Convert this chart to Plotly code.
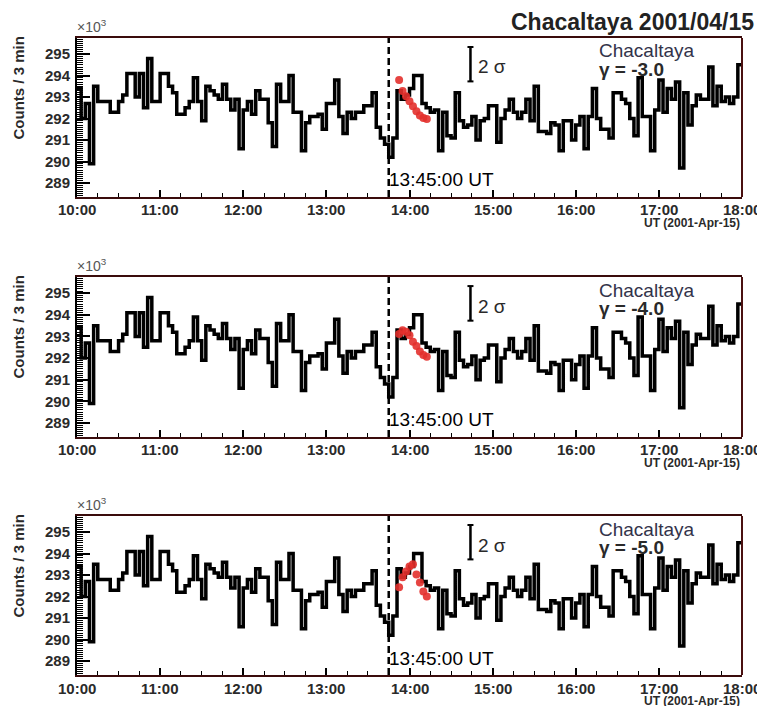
import plotly.graph_objects as go
import pandas as pd

# ---------------- data ----------------
start_time = "2001-04-15 10:00"
end_time = "2001-04-15 18:00"
onset_time = "2001-04-15 13:45"
sigma_time = "2001-04-15 14:44"

# counts per 3-min bin (x10^3), 10:00 -> 18:00
counts = [
    293.4, 292.0, 292.7, 289.9, 293.5, 292.8, 292.8, 292.8, 292.3, 292.3,
    292.8, 293.1, 294.1, 294.1, 293.0, 294.1, 292.5, 294.8, 292.8, 292.8,
    294.1, 294.1, 293.5, 293.2, 292.2, 292.2, 292.5, 292.8, 293.9, 292.8,
    291.9, 293.5, 293.3, 293.1, 292.9, 293.6, 292.9, 292.4, 292.9, 290.6,
    292.4, 292.8, 292.2, 293.3, 292.9, 292.9, 291.8, 290.7, 293.6, 292.8,
    292.8, 294.0, 292.3, 292.3, 290.5, 291.8, 292.1, 292.1, 292.2, 291.5,
    292.7, 292.7, 293.8, 292.1, 291.3, 292.3, 292.0, 292.3, 292.3, 292.6,
    292.6, 293.2, 291.6, 291.1, 290.8, 290.2, 291.1, 293.3, 292.9, 293.1,
    293.4, 294.0, 294.0, 292.7, 292.5, 292.3, 292.4, 290.5, 292.3, 291.2,
    291.1, 293.2, 291.9, 291.6, 291.7, 292.1, 291.0, 291.9, 292.0, 292.6,
    292.6, 290.9, 292.0, 292.4, 292.9, 292.3, 292.0, 292.3, 292.9, 291.9,
    293.5, 291.4, 291.4, 291.3, 291.8, 291.7, 290.5, 291.9, 291.9, 291.0,
    291.7, 292.1, 290.6, 292.1, 293.4, 292.0, 291.5, 291.5, 291.1, 293.2,
    293.2, 292.9, 292.7, 292.0, 291.2, 293.9, 292.1, 292.1, 290.5, 292.4,
    293.8, 292.3, 293.4, 292.9, 293.7, 289.7, 293.2, 291.7, 292.6, 293.1,
    292.9, 292.9, 294.4, 292.6, 293.5, 292.8, 293.0, 292.7, 293.0, 294.5,
]

# model points (red) for the three spectral indices
model_times = [
    "2001-04-15 13:52:30", "2001-04-15 13:55:00", "2001-04-15 13:57:30",
    "2001-04-15 14:00:00", "2001-04-15 14:02:30", "2001-04-15 14:05:00",
    "2001-04-15 14:07:30", "2001-04-15 14:10:00", "2001-04-15 14:12:30",
]
model_g3 = [293.79, 293.28, 293.04, 292.81, 292.57, 292.34, 292.14, 292.03, 291.98]
model_g4 = [293.11, 293.29, 293.22, 293.06, 292.76, 292.56, 292.30, 292.14, 292.06]
model_g5 = [292.43, 292.90, 293.17, 293.40, 293.50, 293.03, 292.66, 292.24, 292.00]

gamma_labels = ["-3.0", "-4.0", "-5.0"]
models = [model_g3, model_g4, model_g5]
hour_ticks = ["10:00", "11:00", "12:00", "13:00", "14:00", "15:00", "16:00", "17:00", "18:00"]
y_range = [288.35, 295.75]
sigma_bar = [293.73, 295.33]

# ---------------- layout geometry (page pixels) ----------------
OFF = 8                      # default page margin around the plot div
W, H = 765 - OFF, 706 - OFF  # figure size so that it ends at the window edge
X0, X1 = 77, 742
panels = [(38, 197), (277, 437), (516, 675)]
FONT = "Liberation Sans, Arial, sans-serif"
TXT = "#2a2a2a"


def px(x):
    return (x - OFF) / W


def py(y):
    return 1 - (y - OFF) / H


edges = pd.date_range(start_time, periods=len(counts) + 1, freq="3min")
hist_x = list(edges)
hist_y = counts + [counts[-1]]

fig = go.Figure()
annotations = []
shapes = []

for k, (top, bot) in enumerate(panels):
    sfx = "" if k == 0 else str(k + 1)
    xa, ya = "x" + sfx, "y" + sfx

    fig.add_trace(go.Scatter(
        x=hist_x, y=hist_y, mode="lines", line=dict(shape="hv", color="black", width=3.5),
        xaxis=xa, yaxis=ya, showlegend=False, hoverinfo="skip"))
    fig.add_trace(go.Scatter(
        x=model_times, y=models[k], mode="markers",
        marker=dict(color="#e3302c", size=8, opacity=0.9, line=dict(width=0)),
        xaxis=xa, yaxis=ya, showlegend=False))

    fig.layout["xaxis" + sfx] = dict(
        domain=[px(X0), px(X1)], anchor=ya, type="date", automargin=False,
        range=[start_time, end_time], dtick=3600000, tick0=start_time,
        ticks="inside", ticklen=7, tickwidth=1.5, tickcolor="black",
        minor=dict(dtick=900000, ticks="inside", ticklen=4, tickcolor="black", tickwidth=1),
        showline=True, linecolor="#3a0c0c", linewidth=2, mirror=True,
        showgrid=False, zeroline=False, showticklabels=False,
    )
    fig.layout["yaxis" + sfx] = dict(
        domain=[py(bot), py(top)], anchor=xa, range=y_range, automargin=False,
        tickmode="linear", tick0=289, dtick=1,
        ticks="inside", ticklen=13, tickwidth=1.5, tickcolor="black",
        minor=dict(tickmode="linear", tick0=289, dtick=0.1, ticks="inside", ticklen=6,
                   tickcolor="black", tickwidth=1),
        showline=True, linecolor="black", linewidth=2, mirror=False,
        showgrid=False, zeroline=False, ticklabelstandoff=2,
        tickfont=dict(family=FONT, size=15, color=TXT, weight="bold"),
    )

    # hour labels under the axis
    for h in hour_ticks:
        annotations.append(dict(
            x="2001-04-15 " + h, y=py(bot + 13), xref=xa, yref="paper",
            xanchor="center", yanchor="middle", text=h, showarrow=False,
            font=dict(family=FONT, size=15, color=TXT, weight="bold")))

    # frame (right border dark red)
    shapes.append(dict(type="line", xref="paper", yref="paper",
                       x0=px(X1), x1=px(X1), y0=py(bot), y1=py(top),
                       line=dict(color="#4a1010", width=2)))
    # onset dashed line
    shapes.append(dict(type="line", xref=xa, yref=ya + " domain",
                       x0=onset_time, x1=onset_time, y0=0, y1=1,
                       line=dict(color="black", width=2.5, dash="7px,4px")))
    # 2 sigma bar
    shapes.append(dict(type="line", xref=xa, yref=ya, x0=sigma_time, x1=sigma_time,
                       y0=sigma_bar[0], y1=sigma_bar[1], line=dict(color="black", width=2.5)))
    for yv in sigma_bar:
        shapes.append(dict(type="line", xref=xa, yref=ya, xsizemode="pixel", xanchor=sigma_time,
                           x0=-3, x1=3, y0=yv, y1=yv, line=dict(color="black", width=2)))

    annotations += [
        dict(x=px(X0 - 2), y=py(top - 1), xref="paper", yref="paper", xanchor="left", yanchor="bottom",
             text="×10<sup>3</sup>", showarrow=False, font=dict(family=FONT, size=14, color="#555")),
        dict(x=px(597), y=py(top + 13), xref="paper", yref="paper", xanchor="left", yanchor="middle",
             text="Chacaltaya", showarrow=False, font=dict(family=FONT, size=19, color="#33334a")),
        dict(x=px(597), y=py(top + 31), xref="paper", yref="paper", xanchor="left", yanchor="middle",
             text="γ = " + gamma_labels[k], showarrow=False,
             font=dict(family=FONT, size=19, color=TXT, weight="bold")),
        dict(x=px(476), y=py(top + 29), xref="paper", yref="paper", xanchor="left", yanchor="middle",
             text="2 σ", showarrow=False, font=dict(family=FONT, size=19, color=TXT)),
        dict(x=px(387), y=py(top + 142), xref="paper", yref="paper", xanchor="left", yanchor="middle",
             text="13:45:00 UT", showarrow=False, font=dict(family=FONT, size=19, color="black")),
        dict(x=px(X1), y=py(bot + 26), xref="paper", yref="paper", xanchor="right", yanchor="middle",
             text="UT (2001-Apr-15)", showarrow=False,
             font=dict(family=FONT, size=12, color=TXT, weight="bold")),
        dict(x=px(18), y=py(top - 3), xref="paper", yref="paper", xanchor="center", yanchor="top",
             text="Counts / 3 min", textangle=-90, showarrow=False,
             font=dict(family=FONT, size=15, color=TXT, weight="bold")),
    ]

annotations.append(dict(x=px(756), y=py(22), xref="paper", yref="paper", xanchor="right",
                        yanchor="middle", text="Chacaltaya 2001/04/15", showarrow=False,
                        font=dict(family=FONT, size=23, color="#222", weight="bold")))

fig.update_layout(
    width=W, height=H, margin=dict(l=0, r=0, t=0, b=0),
    paper_bgcolor="white", plot_bgcolor="white",
    annotations=annotations, shapes=shapes, showlegend=False,
)

fig.write_html("out.html")
